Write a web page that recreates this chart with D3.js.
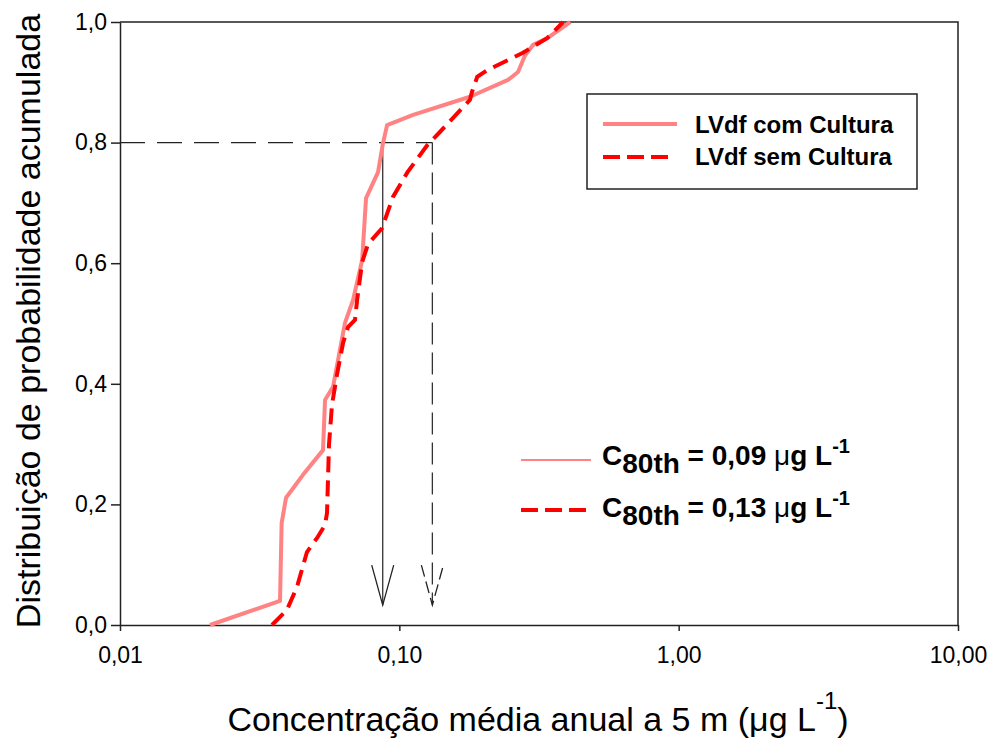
<!DOCTYPE html>
<html>
<head>
<meta charset="utf-8">
<script src="https://cdn.jsdelivr.net/npm/d3@7"></script>
<style>
  body { margin: 0; background: #fff; }
  text { font-family: "Liberation Sans", Arial, sans-serif; }
</style>
</head>
<body>
<div class="chart"></div>
<script>
// curves (x in ug/L, y = cumulative probability)
const solidX = [0.0210, 0.0374, 0.0379, 0.0393, 0.0452, 0.0533, 0.0542, 0.0579, 0.0639, 0.0683, 0.0736, 0.0760, 0.0839, 0.0874, 0.0904, 0.112, 0.179, 0.245, 0.266, 0.282, 0.301, 0.338, 0.409];
const solidY = [0, 0.04, 0.169, 0.211, 0.249, 0.290, 0.373, 0.395, 0.501, 0.539, 0.605, 0.708, 0.751, 0.799, 0.829, 0.846, 0.876, 0.904, 0.917, 0.945, 0.962, 0.973, 1.0];

const dashedX = [0.0350, 0.0396, 0.0430, 0.0467, 0.0507, 0.0542, 0.0551, 0.0560, 0.0574, 0.0598, 0.0629, 0.0655, 0.0694, 0.0706, 0.0736, 0.0773, 0.0867, 0.0949, 0.107, 0.126, 0.140, 0.179, 0.182, 0.190, 0.206, 0.277, 0.338, 0.386];
const dashedY = [0, 0.025, 0.063, 0.121, 0.144, 0.166, 0.186, 0.299, 0.365, 0.415, 0.468, 0.494, 0.506, 0.539, 0.602, 0.632, 0.658, 0.710, 0.751, 0.796, 0.818, 0.871, 0.884, 0.909, 0.920, 0.949, 0.973, 1.0];

const seriesNames = ["LVdf com Cultura", "LVdf sem Cultura"];
const c80Pos = [0.0872, 0.1313];
const c80Labels = ["0,09", "0,13"];
const c80Level = 0.8;
const arrowEnd = 0.033;

const xTicks = [0.01, 0.1, 1, 10];
const xTickLabels = ["0,01", "0,10", "1,00", "10,00"];
const yTicks = [0, 0.2, 0.4, 0.6, 0.8, 1.0];
const yTickLabels = ["0,0", "0,2", "0,4", "0,6", "0,8", "1,0"];

const outerWidth = 989;
const outerHeight = 740;
const margin = {top: 22, left: 120, bottom: 115, right: 31};
const width = outerWidth - margin.left - margin.right;
const height = outerHeight - margin.top - margin.bottom;

const root = d3.select(".chart")
    .append("svg")
    .attr("width", outerWidth)
    .attr("height", outerHeight);

const svg = root.append("g")
    .attr("transform", `translate(${margin.left}, ${margin.top})`);

const xScale = d3.scaleLog().domain([0.01, 10]).range([0, width]);
const yScale = d3.scaleLinear().domain([0, 1]).range([height, 0]);

const solidColor = "#ff8383";
const dashColor = "#ff0000";

// frame top + right
svg.append("path")
    .attr("d", `M0,0H${width}V${height}`)
    .attr("fill", "none")
    .attr("stroke", "#222")
    .attr("stroke-width", 1.5);

// axes
const yAxis = d3.axisLeft(yScale)
    .tickValues(yTicks)
    .tickFormat((d, i) => yTickLabels[i])
    .tickSize(9)
    .tickSizeOuter(0);

const xAxis = d3.axisBottom(xScale)
    .tickValues(xTicks)
    .tickFormat((d, i) => xTickLabels[i])
    .tickSize(6)
    .tickSizeOuter(0);

const gy = svg.append("g").attr("class", "axis-y-axis").call(yAxis);
const gx = svg.append("g").attr("class", "axis-x-axis")
    .attr("transform", `translate(0, ${height})`)
    .call(xAxis);

[gx, gy].forEach(g => {
    g.selectAll("path, line").attr("stroke", "#222").attr("stroke-width", 1.5);
    g.selectAll("text")
        .attr("font-size", 23)
        .attr("font-family", "Liberation Sans, Arial, sans-serif")
        .attr("fill", "#000");
});
gy.selectAll("text").attr("x", -13);
gx.selectAll("text").attr("y", 22);

// guide lines at 80th percentile
const guide = svg.append("g").attr("class", "guides");
guide.append("line")
    .attr("x1", 0).attr("x2", xScale(c80Pos[1]))
    .attr("y1", yScale(c80Level)).attr("y2", yScale(c80Level))
    .attr("stroke", "#222").attr("stroke-width", 1.2)
    .attr("stroke-dasharray", "25,12");

c80Pos.forEach((c, i) => {
    const px = xScale(c);
    const top = yScale(c80Level);
    const bot = yScale(arrowEnd);
    const dash = i == 1 ? "22,8" : null;
    guide.append("line")
        .attr("x1", px).attr("x2", px)
        .attr("y1", top).attr("y2", bot)
        .attr("stroke", "#333").attr("stroke-width", 1.3)
        .attr("stroke-dasharray", dash);
    guide.append("path")
        .attr("d", `M${px - 11},${bot - 40}L${px},${bot}L${px + 11},${bot - 40}`)
        .attr("fill", "none")
        .attr("stroke", "#222").attr("stroke-width", 1.3)
        .attr("stroke-dasharray", i == 1 ? "12,5" : null);
});

// curves
const line = d3.line()
    .x(d => xScale(d[0]))
    .y(d => yScale(d[1]));

svg.append("path")
    .datum(solidX.map((x, i) => [x, solidY[i]]))
    .attr("class", "solid-line")
    .attr("fill", "none")
    .attr("stroke", solidColor)
    .attr("stroke-width", 4)
    .attr("stroke-linejoin", "round")
    .attr("d", line);

svg.append("path")
    .datum(dashedX.map((x, i) => [x, dashedY[i]]))
    .attr("class", "dashed-line")
    .attr("fill", "none")
    .attr("stroke", dashColor)
    .attr("stroke-width", 4)
    .attr("stroke-dasharray", "16,8")
    .attr("d", line);

// legend box
const legend = root.append("g").attr("class", "legend");
legend.append("rect")
    .attr("x", 587).attr("y", 94)
    .attr("width", 330).attr("height", 95)
    .attr("fill", "#fff")
    .attr("stroke", "#222").attr("stroke-width", 1.5);

seriesNames.forEach((name, i) => {
    const ly = i == 0 ? 124 : 157;
    legend.append("line")
        .attr("x1", 603).attr("x2", i == 0 ? 677 : 669)
        .attr("y1", ly).attr("y2", ly)
        .attr("stroke", i == 0 ? solidColor : dashColor)
        .attr("stroke-width", 4)
        .attr("stroke-dasharray", i == 0 ? null : "17,7");
    legend.append("text")
        .attr("x", 695).attr("y", i == 0 ? 133 : 165)
        .attr("font-size", 24)
        .attr("font-weight", "bold")
        .text(name);
});

// C80th labels
const c80g = root.append("g").attr("class", "c80-labels");
c80Labels.forEach((lab, i) => {
    const base = i == 0 ? 465 : 517;
    const ly = i == 0 ? 460 : 510;
    c80g.append("line")
        .attr("x1", 521).attr("x2", 591)
        .attr("y1", ly).attr("y2", ly)
        .attr("stroke", i == 0 ? solidColor : dashColor)
        .attr("stroke-width", i == 0 ? 2 : 4)
        .attr("stroke-dasharray", i == 0 ? null : "17,7");
    const t = c80g.append("text")
        .attr("x", 602).attr("y", base)
        .attr("font-size", 28)
        .attr("font-weight", "bold");
    t.append("tspan").text("C");
    t.append("tspan").attr("dy", 8).text("80th");
    t.append("tspan").attr("dy", -8).text(" = " + lab + " ");
    t.append("tspan").attr("font-weight", "normal").text("\u03bc");
    t.append("tspan").text("g L");
    t.append("tspan").attr("dy", -12).attr("font-size", 20).text("-1");
});

// axis titles
const xt = root.append("text")
    .attr("x", 538).attr("y", 731)
    .attr("text-anchor", "middle")
    .attr("font-size", 34);
xt.append("tspan").text("Concentração média anual a 5 m (\u03bcg L");
xt.append("tspan").attr("dy", -22).attr("font-size", 24).text("-1");
xt.append("tspan").attr("dy", 22).text(")");

root.append("text")
    .attr("transform", "translate(40, 321) rotate(-90)")
    .attr("text-anchor", "middle")
    .attr("font-size", 34)
    .text("Distribuição de probabilidade acumulada");
</script>
</body>
</html>
